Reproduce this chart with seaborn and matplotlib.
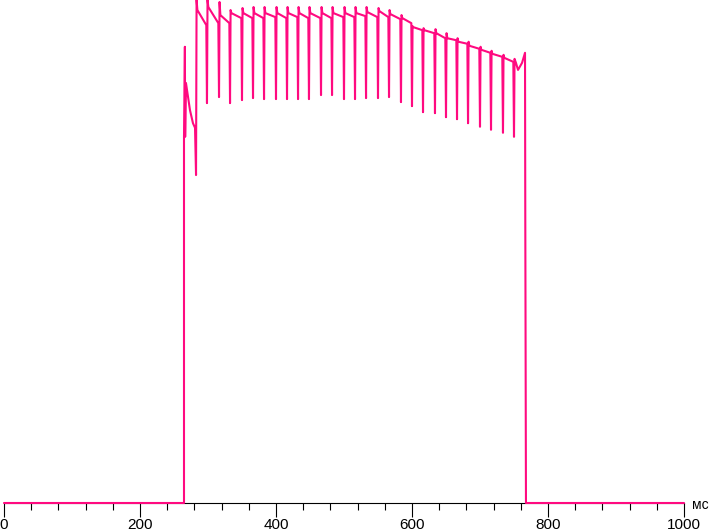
import matplotlib
matplotlib.use("Agg")
import matplotlib.pyplot as plt
from matplotlib.ticker import MultipleLocator
import numpy as np
import pandas as pd
import seaborn as sns

# ---- data (time in ms, brightness in % of full scale) ----
lead_t = [0, 264.7, 264.7, 266.0, 266.4, 267.6, 270.6, 273.5, 277.9, 280.9]
lead_v = [0, 0, 72.6, 90.7, 72.8, 83.5, 80.7, 78.1, 75.5, 74.6]

dip_t = [282.4, 298.5, 316.2, 332.4, 350.0, 366.2, 382.4, 400.0, 416.2, 432.4,
         448.5, 466.2, 482.4, 500.0, 516.2, 532.4, 550.0, 566.2, 583.8, 600.0,
         616.2, 633.8, 650.0, 666.2, 682.4, 700.0, 716.2, 733.8, 750.0]
dip_bottom = [65.2, 79.5, 80.7, 79.5, 80.1, 80.5, 80.3, 80.3, 80.3, 80.3,
              80.3, 81.1, 81.1, 80.3, 80.3, 80.5, 80.5, 80.7, 79.7, 78.9,
              77.7, 77.5, 76.7, 76.3, 75.5, 74.8, 74.2, 73.6, 72.8]
spike_top = [100, 100, 99.6, 98.0, 98.4, 98.6, 98.6, 98.6, 98.6, 98.6,
             98.6, 98.6, 98.6, 98.6, 98.6, 98.6, 98.4, 98.0, 97.0, 94.8,
             94.4, 94.2, 93.4, 92.4, 91.7, 90.7, 89.9, 89.1, 88.3]
plateau_start = [98.0, 98.6, 97.0, 97.4, 97.4, 97.4, 97.4, 97.4, 97.4, 97.4,
                 97.4, 97.4, 97.4, 97.4, 97.4, 97.6, 97.8, 97.2, 96.4, 94.6,
                 94.0, 93.4, 92.4, 91.7, 90.9, 90.1, 89.3, 88.5]
plateau_end = [95.0, 95.4, 95.4, 96.4, 96.4, 96.4, 96.6, 96.4, 96.6, 96.4,
               96.4, 96.4, 96.6, 96.6, 96.8, 96.6, 96.6, 96.2, 95.4, 94.0,
               93.4, 92.4, 92.0, 91.3, 90.3, 89.5, 88.7, 87.7]

tail_t = [752.9, 755.9, 761.8, 766.2, 766.6, 767.6, 1000]
tail_v = [87.5, 86.1, 87.5, 89.5, 56.7, 0, 0]

xticks = [0, 200, 400, 600, 800, 1000]
unit_label = "мс"

# ---- assemble the polyline ----
ts, vs = list(lead_t), list(lead_v)
for k in range(len(dip_t)):
    if k > 0:
        ts.append(dip_t[k] - 1.0); vs.append(plateau_end[k - 1])
    ts.append(dip_t[k]); vs.append(dip_bottom[k])
    ts.append(dip_t[k] + 0.8); vs.append(spike_top[k])
    if k < len(plateau_start):
        ts.append(dip_t[k] + 2.0); vs.append(plateau_start[k])
ts += tail_t
vs += tail_v
df = pd.DataFrame({"t": ts, "v": vs, "order": range(len(ts))})

# ---- figure ----
sns.set_theme(style="white")
plt.rcParams["font.family"] = ["Liberation Sans", "DejaVu Sans"]

W, H = 711, 532
fig = plt.figure(figsize=(W / 100, H / 100), dpi=100)
ax = fig.add_axes([4 / W, (H - 503) / H, 680 / W, 503 / H])

sns.lineplot(data=df, x="t", y="v", sort=False, estimator=None, ax=ax,
             color="#ff0a80", linewidth=1.5, clip_on=False, zorder=3)

ax.set_xlim(0, 1000)
ax.set_ylim(0, 100)
ax.set_xlabel("")
ax.set_ylabel("")
ax.set_yticks([])
for s in ["top", "right", "left"]:
    ax.spines[s].set_visible(False)
ax.spines["bottom"].set_color("black")
ax.spines["bottom"].set_linewidth(0.8)
ax.spines["bottom"].set_zorder(1)

ax.set_xticks(xticks)
ax.set_xticklabels([str(x) for x in xticks])
ax.xaxis.set_minor_locator(MultipleLocator(40))
ax.tick_params(axis="x", which="major", bottom=True, length=10, width=0.8,
               color="black", pad=0.5, labelsize=11, labelcolor="black")
ax.tick_params(axis="x", which="minor", bottom=True, length=5, width=0.8,
               color="black")
ax.patch.set_alpha(0)

fig.text(692 / W, (H - 505) / H, unit_label, fontsize=10, color="black",
         ha="left", va="center")

fig.savefig("out.png", dpi=100)
